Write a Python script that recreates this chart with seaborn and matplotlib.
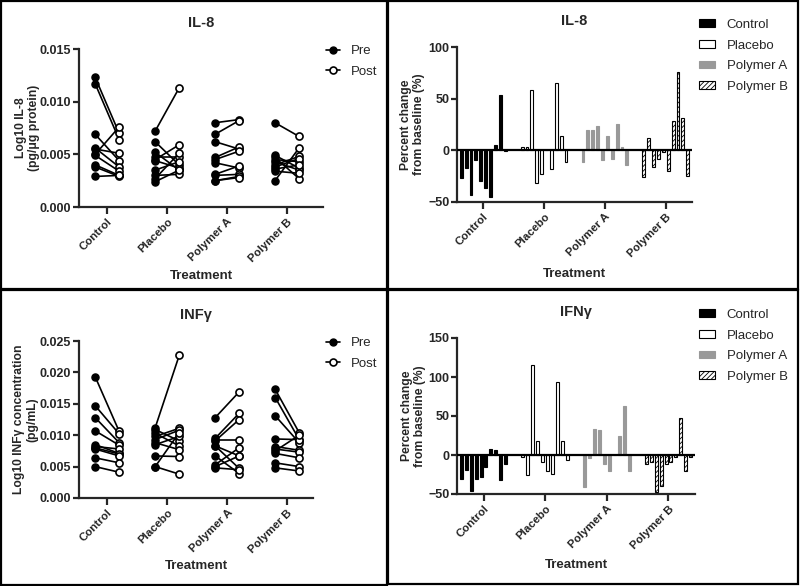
import pandas as pd
import seaborn as sns
import matplotlib.pyplot as plt
from matplotlib.lines import Line2D
from matplotlib.patches import Patch, Rectangle
from matplotlib.ticker import FormatStrFormatter

sns.set_style("ticks")
plt.rcParams['font.family'] = ['Liberation Sans', 'DejaVu Sans']
plt.rcParams['hatch.linewidth'] = 0.6

groups = ["Control", "Placebo", "Polymer A", "Polymer B"]

# IL-8, log10 pg/ug protein, one list per treatment (10 subjects)
il8_pre = [
    [0.0123, 0.0117, 0.0069, 0.0056, 0.0055, 0.0050, 0.0049, 0.0040, 0.0038, 0.0029],
    [0.0072, 0.0062, 0.0052, 0.0047, 0.0045, 0.0044, 0.0035, 0.0030, 0.0027, 0.0024],
    [0.0080, 0.0069, 0.0062, 0.0047, 0.0045, 0.0042, 0.0031, 0.0030, 0.0025, 0.0025],
    [0.0080, 0.0049, 0.0047, 0.0045, 0.0043, 0.0040, 0.0038, 0.0036, 0.0034, 0.0025],
]
il8_post = [
    [0.0070, 0.0064, 0.0044, 0.0038, 0.0051, 0.0076, 0.0034, 0.0030, 0.0029, 0.0030],
    [0.0113, 0.0040, 0.0035, 0.0047, 0.0059, 0.0037, 0.0043, 0.0031, 0.0051, 0.0035],
    [0.0083, 0.0082, 0.0055, 0.0057, 0.0053, 0.0037, 0.0039, 0.0031, 0.0029, 0.0028],
    [0.0067, 0.0037, 0.0027, 0.0043, 0.0035, 0.0048, 0.0046, 0.0040, 0.0032, 0.0056],
]

# INF-gamma, log10 pg/mL
ifn_pre = [
    [0.0193, 0.0147, 0.0128, 0.0107, 0.0085, 0.0082, 0.0080, 0.0078, 0.0064, 0.0050],
    [0.0112, 0.0109, 0.0103, 0.0098, 0.0093, 0.0088, 0.0085, 0.0067, 0.0050, 0.0050],
    [0.0128, 0.0095, 0.0091, 0.0093, 0.0083, 0.0083, 0.0067, 0.0053, 0.0050, 0.0048],
    [0.0173, 0.0160, 0.0131, 0.0094, 0.0082, 0.0078, 0.0075, 0.0071, 0.0056, 0.0048],
]
ifn_post = [
    [0.0106, 0.0102, 0.0088, 0.0084, 0.0071, 0.0078, 0.0070, 0.0067, 0.0056, 0.0041],
    [0.0227, 0.0091, 0.0083, 0.0111, 0.0108, 0.0077, 0.0098, 0.0066, 0.0104, 0.0038],
    [0.0169, 0.0135, 0.0125, 0.0093, 0.0067, 0.0047, 0.0039, 0.0080, 0.0067, 0.0045],
    [0.0104, 0.0093, 0.0088, 0.0093, 0.0076, 0.0073, 0.0100, 0.0064, 0.0050, 0.0043],
]

# percent change from baseline, per subject
il8_change = [
    [-27, -17, -43, -9, -30, -36, -45, 5, 54, -1],
    [3, 3, 58, -32, -23, 0, -18, 65, 14, -11],
    [-11, 20, 20, 24, -9, 14, -8, 25, 3, -14],
    [-26, 12, -16, -8, -2, -20, 28, 76, 31, -25],
]
ifn_change = [
    [-31, -19, -46, -31, -28, -16, 8, 6, -32, -12],
    [-2, -26, 116, 18, -9, -21, -24, 93, 18, -7],
    [-41, -4, 33, 32, -12, -20, 0, 25, 63, -21],
    [-11, -9, -47, -40, -11, -9, -3, 47, -20, -2],
]


def style_axes(ax, title, ylabel, ylab_x, xlab_y):
    sns.despine(ax=ax)
    for s in ["left", "bottom"]:
        ax.spines[s].set_linewidth(1.6)
    ax.tick_params(axis="y", width=1.6, length=4, pad=1.5, labelsize=9)
    ax.tick_params(axis="x", width=1.6, length=5, pad=2, labelsize=8.2)
    ax.set_xticks(range(len(groups)))
    ax.set_xticklabels(groups, rotation=45, ha="right", rotation_mode="anchor",
                       fontweight="bold", fontsize=8.2)
    for t in ax.get_yticklabels():
        t.set_fontweight("bold")
    ax.set_xlabel("Treatment", fontweight="bold", fontsize=9.5, va="top")
    ax.xaxis.set_label_coords(0.5, xlab_y)
    ax.set_ylabel(ylabel, fontweight="bold", fontsize=8.7, linespacing=1.1)
    ax.yaxis.set_label_coords(ylab_x, 0.5)
    ax.set_title(title, fontweight="bold", fontsize=10.5, pad=16)


def draw_pairs(ax, pre, post, yticks, title, ylabel, ylab_x, xlab_y, leg_top):
    rows = []
    for gi, g in enumerate(groups):
        for si in range(len(pre[gi])):
            rows.append({"x": gi - 0.2, "val": pre[gi][si], "unit": f"{gi}-{si}", "time": "Pre"})
            rows.append({"x": gi + 0.2, "val": post[gi][si], "unit": f"{gi}-{si}", "time": "Post"})
    df = pd.DataFrame(rows)
    sns.lineplot(data=df, x="x", y="val", units="unit", estimator=None, sort=False,
                 color="black", lw=1.2, ax=ax, legend=False)
    sns.scatterplot(data=df[df.time == "Pre"], x="x", y="val", color="black",
                    edgecolor="black", s=26, linewidth=1, ax=ax, zorder=3, legend=False)
    sns.scatterplot(data=df[df.time == "Post"], x="x", y="val", color="white",
                    edgecolor="black", s=26, linewidth=1.2, ax=ax, zorder=3, legend=False)
    ax.set_ylim(yticks[0], yticks[-1])
    ax.set_yticks(yticks)
    ax.yaxis.set_major_formatter(FormatStrFormatter("%.3f"))
    style_axes(ax, title, ylabel, ylab_x, xlab_y)
    handles = [
        Line2D([], [], color="black", lw=1.2, marker="o", ms=5, mfc="black", mec="black"),
        Line2D([], [], color="black", lw=1.2, marker="o", ms=5, mfc="white", mec="black", mew=1.2),
    ]
    ax.legend(handles, ["Pre", "Post"], loc="upper left",
              bbox_to_anchor=(326 / 800, 1 - leg_top / 586), bbox_transform=fig.transFigure,
              borderpad=0, borderaxespad=0, frameon=False, fontsize=9.5,
              handlelength=1.05, handletextpad=0.8, labelspacing=0.65)


bar_face = ["black", "white", "#999999", "white"]
bar_edge = ["black", "black", "#999999", "black"]
bar_hatch = [None, None, None, "///////"]


def draw_changes(ax, change, yticks, title, ylab_x, xlab_y, leg_top):
    rows = []
    for gi, g in enumerate(groups):
        for si, v in enumerate(change[gi]):
            rows.append({"group": g, "subject": si, "change": v})
    df = pd.DataFrame(rows)
    sns.barplot(data=df, x="group", y="change", hue="subject", order=groups,
                dodge=True, width=0.8, gap=0.4, errorbar=None, legend=False, ax=ax)
    for p in ax.patches:
        gi = int(round(p.get_x() + p.get_width() / 2))
        p.set_facecolor(bar_face[gi])
        p.set_edgecolor(bar_edge[gi])
        p.set_linewidth(0.8)
        if bar_hatch[gi]:
            p.set_hatch(bar_hatch[gi])
    ax.axhline(0, color="black", lw=1.6, zorder=5)
    ax.set_xlim(-0.43, 3.43)
    ax.set_ylim(yticks[0], yticks[-1])
    ax.set_yticks(yticks)
    style_axes(ax, title, "Percent change\nfrom baseline (%)", ylab_x, xlab_y)
    handles = [Patch(facecolor=bar_face[i], edgecolor=bar_edge[i], hatch=bar_hatch[i], lw=0.8)
               for i in range(4)]
    ax.legend(handles, groups, loc="upper left",
              bbox_to_anchor=(699 / 800, 1 - leg_top / 586), bbox_transform=fig.transFigure,
              borderpad=0, borderaxespad=0, frameon=False, fontsize=9.5,
              handlelength=1.2, handleheight=0.55, handletextpad=0.9, labelspacing=0.65)


fig = plt.figure(figsize=(8, 5.86), dpi=100)


# axes placed from pixel boxes (left, top, right, bottom)
def add_ax(l, t, r, b):
    return fig.add_axes([l / 800, 1 - b / 586, (r - l) / 800, (b - t) / 586])


ax1 = add_ax(79, 49, 323, 207)
ax2 = add_ax(457, 47, 692, 202)
ax3 = add_ax(79, 341, 313, 498)
ax4 = add_ax(457, 338, 695, 494)

draw_pairs(ax1, il8_pre, il8_post, [0, 0.005, 0.010, 0.015], "IL-8",
           "Log10 IL-8\n(pg/μg protein)", -0.16, -0.40, 45)
ax1.set_xlim(-0.47, 3.6)
draw_pairs(ax3, ifn_pre, ifn_post, [0, 0.005, 0.010, 0.015, 0.020, 0.025], "INFγ",
           "Log10 INFγ concentration\n(pg/mL)", -0.175, -0.395, 337)
ax3.set_xlim(-0.47, 3.43)

draw_changes(ax2, il8_change, [-50, 0, 50, 100], "IL-8", -0.135, -0.425, 19)
draw_changes(ax4, ifn_change, [-50, 0, 50, 100, 150], "IFNγ", -0.13, -0.415, 309)

# panel frames
for (l, t, r, b) in [(1, 1, 387, 289), (388, 1, 798, 289), (1, 290, 387, 585), (388, 290, 798, 584)]:
    fig.add_artist(Rectangle((l / 800, 1 - b / 586), (r - l) / 800, (b - t) / 586,
                             transform=fig.transFigure, fill=False, lw=1.6, color="black"))

fig.savefig("out.png", dpi=100)
